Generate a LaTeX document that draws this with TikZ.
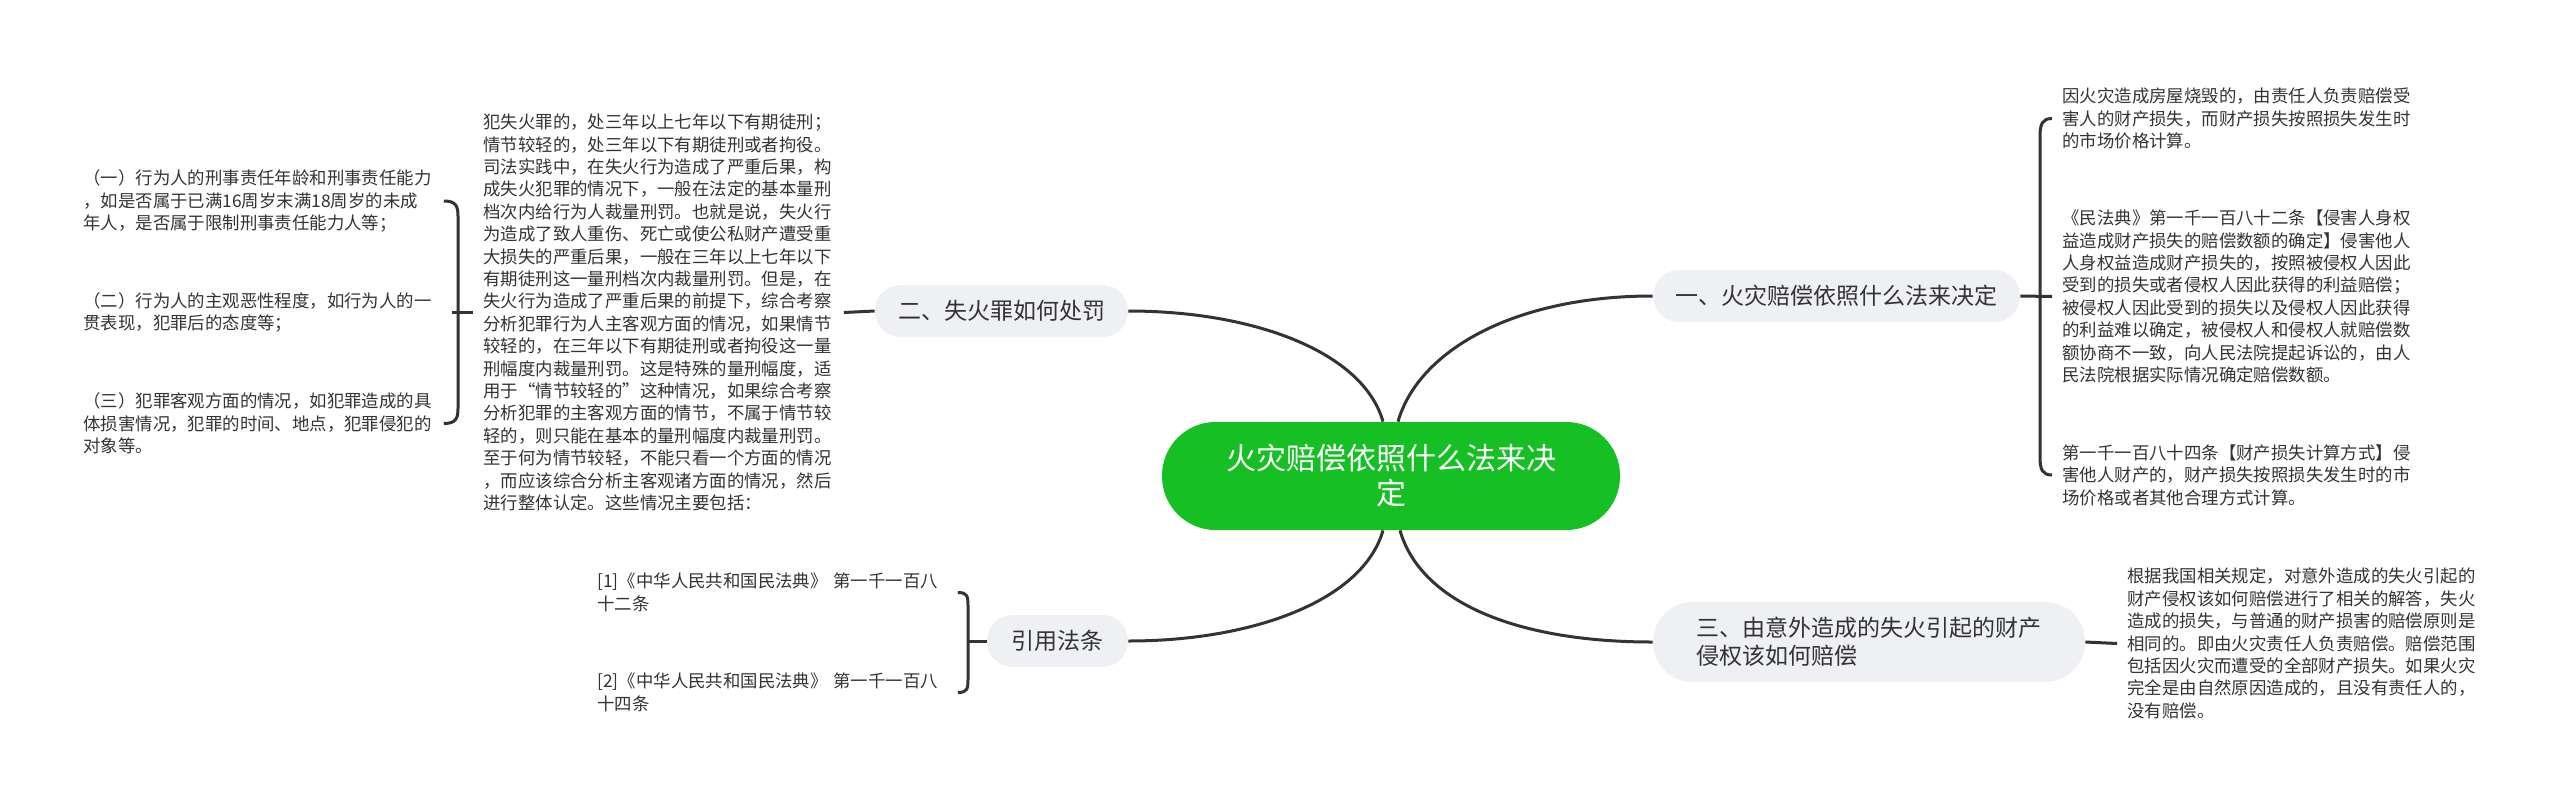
\documentclass[tikz,border=0pt]{standalone}
\usepackage{fontspec}
\setmainfont{Noto Sans CJK SC}
\usetikzlibrary{calc}
\definecolor{rootgreen}{RGB}{21,191,36}
\definecolor{branchfill}{RGB}{238,240,243}
\definecolor{txt}{RGB}{51,51,51}
\definecolor{linec}{RGB}{51,51,51}
\begin{document}
\begin{tikzpicture}[x=0.5pt,y=-0.5pt,
  rootnode/.style={fill=rootgreen, draw=none, text=white, rounded corners=26.8pt, minimum width=229pt, minimum height=54pt, align=center, font=\fontsize{15pt}{17.5pt}\selectfont, inner sep=0pt},
  branch/.style={fill=branchfill, draw=none, text=txt, align=left, font=\fontsize{11.5pt}{14pt}\selectfont, inner sep=0pt},
  leaf/.style={text=txt, align=left, text width=175pt, font=\fontsize{8.7pt}{11.2pt}\selectfont, inner xsep=5pt, inner ysep=0pt},
  conn/.style={draw=linec, line width=1.5pt},
]
\useasboundingbox (0,0) rectangle (2560,804);
\fill[white] (0,0) rectangle (2560,804);

% root and branches
\node[rootnode] (root) at (1391,476) {火灾赔偿依照什么法来决\\定};
\node[branch, minimum width=126.5pt, minimum height=26pt, rounded corners=12.9pt] (b2) at (1001.5,311) {二、失火罪如何处罚};
\node[branch, minimum width=183.5pt, minimum height=26pt, rounded corners=12.9pt] (b1) at (1836.5,296) {一、火灾赔偿依照什么法来决定};
\node[branch, minimum width=216pt, minimum height=40pt, rounded corners=19.9pt] (b3) at (1869,642) {三、由意外造成的失火引起的财产\\侵权该如何赔偿};
\node[branch, minimum width=70.5pt, minimum height=26pt, rounded corners=12.9pt] (b4) at (1057.5,641) {引用法条};

% leaves of branch 2
\node[leaf, anchor=west] (big) at (473,312.5) {犯失火罪的，处三年以上七年以下有期徒刑；\\情节较轻的，处三年以下有期徒刑或者拘役。\\司法实践中，在失火行为造成了严重后果，构\\成失火犯罪的情况下，一般在法定的基本量刑\\档次内给行为人裁量刑罚。也就是说，失火行\\为造成了致人重伤、死亡或使公私财产遭受重\\大损失的严重后果，一般在三年以上七年以下\\有期徒刑这一量刑档次内裁量刑罚。但是，在\\失火行为造成了严重后果的前提下，综合考察\\分析犯罪行为人主客观方面的情况，如果情节\\较轻的，在三年以下有期徒刑或者拘役这一量\\刑幅度内裁量刑罚。这是特殊的量刑幅度，适\\用于“情节较轻的”这种情况，如果综合考察\\分析犯罪的主客观方面的情节，不属于情节较\\轻的，则只能在基本的量刑幅度内裁量刑罚。\\至于何为情节较轻，不能只看一个方面的情况\\，而应该综合分析主客观诸方面的情况，然后\\进行整体认定。这些情况主要包括：};
\node[leaf, anchor=west] (g1) at (73,201) {（一）行为人的刑事责任年龄和刑事责任能力\\，如是否属于已满16周岁末满18周岁的未成\\年人，是否属于限制刑事责任能力人等；};
\node[leaf, anchor=west] (g2) at (73,312.5) {（二）行为人的主观恶性程度，如行为人的一\\贯表现，犯罪后的态度等；};
\node[leaf, anchor=west] (g3) at (73,423.5) {（三）犯罪客观方面的情况，如犯罪造成的具\\体损害情况，犯罪的时间、地点，犯罪侵犯的\\对象等。};

% leaves of branch 1
\node[leaf, anchor=west] (A) at (2052,118.5) {因火灾造成房屋烧毁的，由责任人负责赔偿受\\害人的财产损失，而财产损失按照损失发生时\\的市场价格计算。};
\node[leaf, anchor=west] (B) at (2052,296.5) {《民法典》第一千一百八十二条【侵害人身权\\益造成财产损失的赔偿数额的确定】侵害他人\\人身权益造成财产损失的，按照被侵权人因此\\受到的损失或者侵权人因此获得的利益赔偿；\\被侵权人因此受到的损失以及侵权人因此获得\\的利益难以确定，被侵权人和侵权人就赔偿数\\额协商不一致，向人民法院提起诉讼的，由人\\民法院根据实际情况确定赔偿数额。};
\node[leaf, anchor=west] (C) at (2052,475) {第一千一百八十四条【财产损失计算方式】侵\\害他人财产的，财产损失按照损失发生时的市\\场价格或者其他合理方式计算。};

% leaf of branch 3
\node[leaf, anchor=west] (D) at (2117,643.5) {根据我国相关规定，对意外造成的失火引起的\\财产侵权该如何赔偿进行了相关的解答，失火\\造成的损失，与普通的财产损害的赔偿原则是\\相同的。即由火灾责任人负责赔偿。赔偿范围\\包括因火灾而遭受的全部财产损失。如果火灾\\完全是由自然原因造成的，且没有责任人的，\\没有赔偿。};

% leaves of branch 4
\node[leaf, anchor=west] (r1) at (587,592.5) {[1]《中华人民共和国民法典》~第一千一百八\\十二条};
\node[leaf, anchor=west] (r2) at (587,692.5) {[2]《中华人民共和国民法典》~第一千一百八\\十四条};

% spine coordinates
\coordinate (lsp) at (458,312);
\coordinate (rsp) at (2040,296);
\coordinate (bsp) at (968,641);

% root connectors
\draw[conn] ($(root.north)+(-8,0)$) .. controls +(-20,-70) and +(125,0) .. (b2.east);
\draw[conn] ($(root.north)+(7,0)$) .. controls +(20,-70) and +(-140,0) .. (b1.west);
\draw[conn] ($(root.south)+(-8,0)$) .. controls +(-20,70) and +(125,0) .. (b4.east);
\draw[conn] ($(root.south)+(9,0)$) .. controls +(20,70) and +(-140,0) .. (b3.west);

% straight connectors
\draw[conn] (b2.west) -- (big.east);
\draw[conn] (b1.east) -- (B.west);
\draw[conn] (b3.east) -- (D.west);

% left bracket
\draw[conn] (g1.east) .. controls +(12,0) and +(0,-10) .. ($(g1.east -| lsp)+(0,15)$) -- ($(g3.east -| lsp)+(0,-15)$) .. controls +(0,10) and +(12,0) .. (g3.east);
\draw[conn] (big.west) -- ($(big.west -| lsp)+(-6,0)$);

% right bracket
\draw[conn] (A.west) .. controls +(-10,0) and +(0,-12) .. ($(A.west -| rsp)+(0,18)$) -- ($(C.west -| rsp)+(0,-18)$) .. controls +(0,12) and +(-10,0) .. (C.west);

% bottom bracket
\draw[conn] (r1.east) .. controls +(10,0) and +(0,-10) .. ($(r1.east -| bsp)+(0,14)$) -- ($(r2.east -| bsp)+(0,-14)$) .. controls +(0,10) and +(10,0) .. (r2.east);
\draw[conn] (b4.west) -- (b4.west -| bsp);
\end{tikzpicture}
\end{document}
